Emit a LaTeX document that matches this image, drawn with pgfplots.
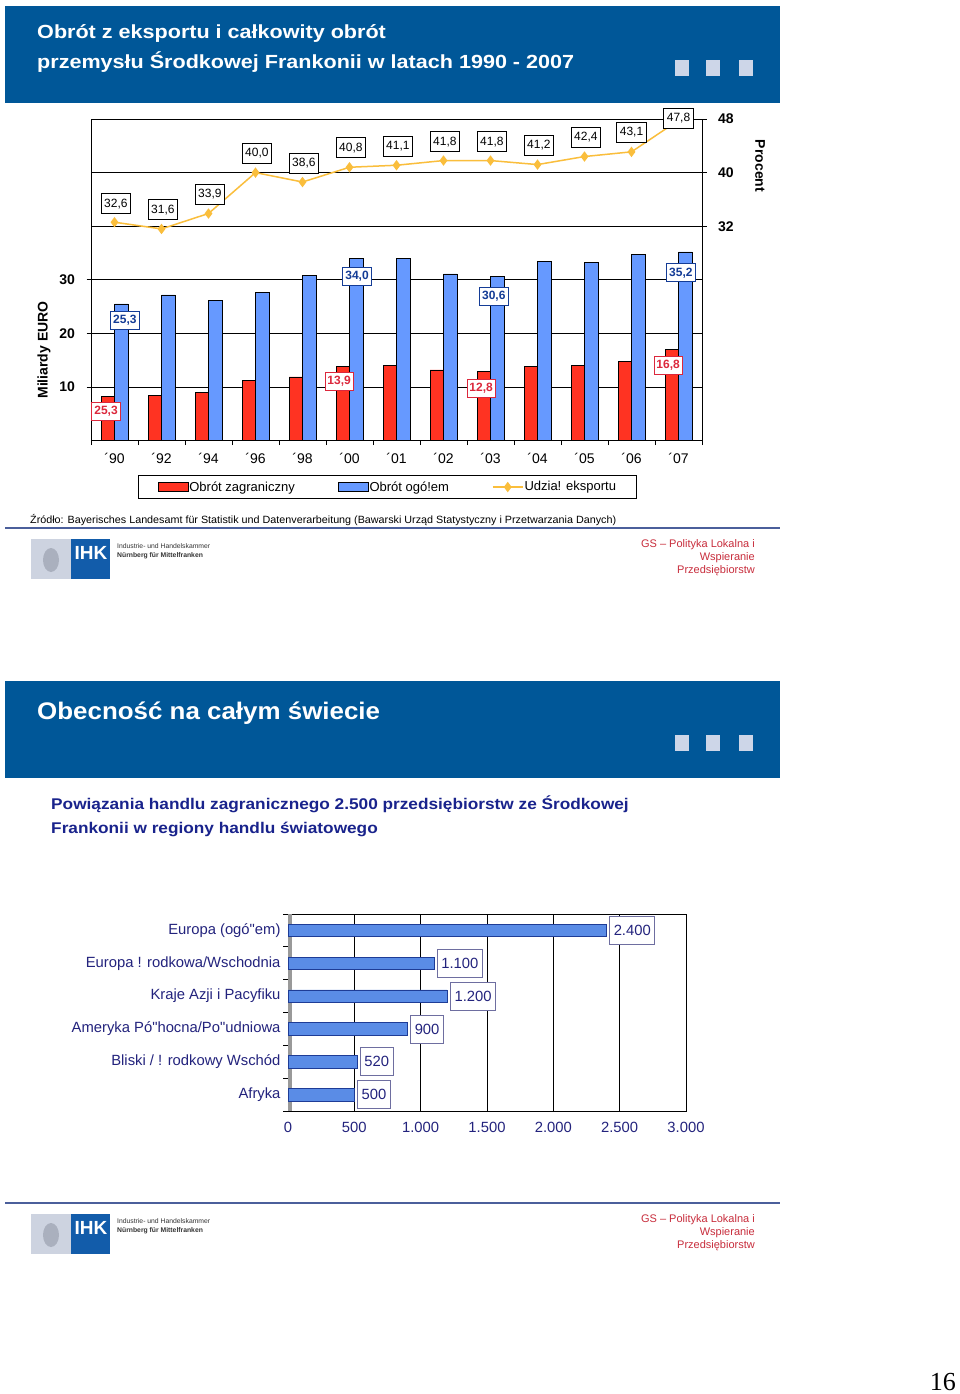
\documentclass[border=0pt]{standalone}
\usepackage{fontspec}
\setmainfont{Liberation Sans}
\newfontfamily\seriffont{Liberation Serif}
\usepackage{pgfplots}
\pgfplotsset{compat=1.18}
\usepackage{pgfplotstable}

\definecolor{banner}{RGB}{0,87,152}
\definecolor{sqcol}{RGB}{205,214,232}
\definecolor{barred}{RGB}{255,51,34}
\definecolor{barblue}{RGB}{102,153,255}
\definecolor{linegold}{RGB}{250,190,60}
\definecolor{lblred}{RGB}{220,40,60}
\definecolor{lblblue}{RGB}{20,60,150}
\definecolor{navy}{RGB}{35,35,125}
\definecolor{subblue}{RGB}{25,35,140}
\definecolor{gsred}{RGB}{200,45,60}
\definecolor{hbar}{RGB}{90,140,230}
\definecolor{hbardark}{RGB}{30,60,150}
\definecolor{boxgray}{RGB}{110,110,160}
\definecolor{sepline}{RGB}{75,95,155}
\definecolor{logogray}{RGB}{205,211,224}
\definecolor{logoblue}{RGB}{18,92,170}
\definecolor{emblem}{RGB}{170,176,190}

\newcommand\fs[1]{\fontsize{#1}{#1}\selectfont}

\pgfplotsset{
  barleg/.style={legend image code/.code={\draw[##1, line width=0.7pt] (0pt,-4.5pt) rectangle (30pt,4.5pt);}},
  lineleg/.style={legend image code/.code={\draw[##1, mark repeat=2, mark phase=2] plot coordinates {(0pt,0pt) (15pt,0pt) (30pt,0pt)};}},
}

\pgfplotstableread{
x red blue pct
0 8.2 25.5 32.6
1 8.5 27.2 31.6
2 9.0 26.2 33.9
3 11.2 27.7 40.0
4 11.9 30.8 38.6
5 13.8 34.0 40.8
6 14.1 34.0 41.1
7 13.2 31.1 41.8
8 12.9 30.6 41.8
9 13.8 33.5 41.2
10 14.1 33.3 42.4
11 14.8 34.7 43.1
12 17.0 35.2 47.8
}\topdata

\pgfplotstableread{
x y l
-0.18 5.5 {25,3}
4.78 11.0 {13,9}
7.80 9.7 {12,8}
11.78 14.0 {16,8}
}\redlab

\pgfplotstableread{
x y l
0.22 22.5 {25,3}
5.16 30.7 {34,0}
8.07 27.0 {30,6}
12.05 31.3 {35,2}
}\bluelab

\pgfplotstableread{
x y l
0.03 35.35 {32,6}
1.03 34.45 {31,6}
2.03 36.8 {33,9}
3.03 42.9 {40,0}
4.03 41.45 {38,6}
5.03 43.7 {40,8}
6.03 43.9 {41,1}
7.03 44.6 {41,8}
8.03 44.6 {41,8}
9.03 44.1 {41,2}
10.03 45.3 {42,4}
11.0 46.05 {43,1}
12.0 48.1 {47,8}
}\pctlab

\begin{document}
\begin{tikzpicture}
\fill[white] (0pt,0pt) rectangle (960pt,-1394pt);
\useasboundingbox (0pt,0pt) rectangle (960pt,-1394pt);

\begin{scope}[x=1pt,y=-1pt]
\foreach \dy in {0,675} {
  \begin{scope}[yshift=-\dy pt]
    \fill[banner] (5,6) rectangle (780,103);
    \foreach \sx in {675,706,739} \fill[sqcol] (\sx,60) rectangle ++(14,16);
    \draw[sepline, line width=1.8pt] (5,528) -- (780,528);
    \fill[logogray] (31,539) rectangle (71,579);
    \fill[logoblue] (71,539) rectangle (110,579);
    \fill[emblem] (51,560) ellipse (8 and 12);
    \node[anchor=base, text=white, font=\fs{19}\bfseries, inner sep=0] at (91,559) {IHK};
    \node[anchor=north west, text=black!80, font=\fs{6.8}, align=left, inner sep=0] at (117,543.5) {Industrie- und Handelskammer\\[2.5pt]\textbf{Nürnberg für Mittelfranken}};
    \node[anchor=base east, text=gsred, font=\fs{11}, inner sep=0] at (755,547) {GS – Polityka Lokalna i};
    \node[anchor=base east, text=gsred, font=\fs{11}, inner sep=0] at (755,560) {Wspieranie};
    \node[anchor=base east, text=gsred, font=\fs{11}, inner sep=0] at (755,573) {Przedsiębiorstw};
  \end{scope}
}
\node[anchor=base west, text=white, font=\fs{19}\bfseries, inner sep=0, xscale=1.135] at (37,39) {Obrót z eksportu i całkowity obrót};
\node[anchor=base west, text=white, font=\fs{19}\bfseries, inner sep=0, xscale=1.135] at (37,69) {przemysłu Środkowej Frankonii w latach 1990 - 2007};
\node[anchor=base west, text=white, font=\fs{24}\bfseries, inner sep=0, xscale=1.08] at (37,719) {Obecność na całym świecie};
\node[anchor=base west, text=subblue, font=\fs{15.5}\bfseries, inner sep=0, xscale=1.112] at (51,809) {Powiązania handlu zagranicznego 2.500 przedsiębiorstw ze Środkowej};
\node[anchor=base west, text=subblue, font=\fs{15.5}\bfseries, inner sep=0, xscale=1.112] at (51,833) {Frankonii w regiony handlu światowego};
\node[anchor=base west, text=black, font=\fs{10.5}, inner sep=0, xscale=1.025] at (30,523) {Źródło: Bayerisches Landesamt für Statistik und Datenverarbeitung (Bawarski Urząd Statystyczny i Przetwarzania Danych)};
\node[rotate=90, font=\fs{14}\bfseries, inner sep=0] at (44,350) {Miliardy EURO};
\node[rotate=-90, font=\fs{14}\bfseries, inner sep=0] at (760,166) {Procent};
\node[anchor=base east, font=\seriffont\fs{26}, inner sep=0] at (956,1390) {16};
\end{scope}

% ===== top chart: bars (primary axis)
\begin{axis}[
  at={(91pt,-440.7pt)}, anchor=south west, scale only axis,
  width=611pt, height=321.7pt,
  xmin=-0.5, xmax=12.5, ymin=0, ymax=60,
  axis line style={black, line width=0.9pt},
  ytick={10,20,30}, yticklabels={10,20,30},
  ymajorgrids, major grid style={black, line width=0.8pt},
  ytick pos=left, xtick pos=bottom, tick align=outside,
  major tick length=4.5pt, tick style={black, line width=0.8pt},
  xtick={-0.5,0.5,...,12.5}, xticklabels={},
  extra x ticks={0,1,2,3,4,5,6,7,8,9,10,11,12},
  extra x tick labels={´90,´92,´94,´96,´98,´00,´01,´02,´03,´04,´05,´06,´07},
  extra x tick style={major tick length=0pt, tick label style={font=\fs{14}, yshift=-9pt}},
  yticklabel style={font=\fs{14}\bfseries, xshift=-8pt},
  clip=false,
]
\addplot[ybar, bar width=13.5pt, bar shift=-6.75pt, fill=barred, draw=black, line width=0.7pt] table[x=x,y=red]{\topdata};
\addplot[ybar, bar width=13.5pt, bar shift=6.75pt, fill=barblue, draw=black, line width=0.7pt] table[x=x,y=blue]{\topdata};
\addplot[draw=none, mark=none, forget plot, nodes near coords, point meta=explicit symbolic,
  every node near coord/.style={anchor=center, draw=lblred, fill=white, text=lblred, font=\fs{12}\bfseries, inner xsep=2.5pt, inner ysep=1pt, minimum height=18pt, line width=0.8pt}]
  table[x=x,y=y,meta=l]{\redlab};
\addplot[draw=none, mark=none, forget plot, nodes near coords, point meta=explicit symbolic,
  every node near coord/.style={anchor=center, draw=lblblue, fill=white, text=lblblue, font=\fs{12}\bfseries, inner xsep=2.5pt, inner ysep=1pt, minimum height=18pt, line width=0.8pt}]
  table[x=x,y=y,meta=l]{\bluelab};
\end{axis}

% ===== top chart: export share (secondary axis)
\begin{axis}[
  at={(91pt,-440.7pt)}, anchor=south west, scale only axis,
  width=611pt, height=321.7pt,
  xmin=-0.5, xmax=12.5, ymin=0, ymax=48,
  axis x line=none, axis y line*=right,
  axis line style={black, line width=0.9pt},
  ytick={32,40,48}, yticklabels={32,40,48},
  ymajorgrids, major grid style={black, line width=0.8pt},
  tick align=outside, major tick length=4.5pt, tick style={black, line width=0.8pt},
  yticklabel style={font=\fs{14}\bfseries, xshift=8pt},
  clip=false,
  legend style={at={(0.485,-0.144)}, anchor=center, legend columns=3, draw=black, line width=0.9pt,
    font=\fs{13}, inner xsep=19pt, inner ysep=4pt, nodes={inner xsep=1pt},
    /tikz/column 2/.style={column sep=42pt}, /tikz/column 4/.style={column sep=42pt}},
]
\addlegendimage{barleg, fill=barred, draw=black}
\addlegendentry{Obrót zagraniczny}
\addlegendimage{barleg, fill=barblue, draw=black}
\addlegendentry{Obrót ogó!em}
\addplot[lineleg, color=linegold, line width=1.5pt, mark=diamond*, mark size=4pt, mark options={fill=linegold, draw=linegold}]
  table[x=x,y=pct]{\topdata};
\addlegendentry{Udzia! eksportu}
\addplot[draw=none, mark=none, forget plot, nodes near coords, point meta=explicit symbolic,
  every node near coord/.style={anchor=center, draw=black, fill=white, text=black, font=\fs{12}, inner xsep=3pt, inner ysep=1pt, minimum height=20pt, line width=0.7pt}]
  table[x=x,y=y,meta=l]{\pctlab};
\end{axis}

% ===== bottom chart: horizontal bars
\begin{axis}[
  at={(288pt,-1111pt)}, anchor=south west, scale only axis,
  width=398pt, height=197pt,
  xmin=0, xmax=3000, ymin=-0.5, ymax=5.5, y dir=reverse,
  axis line style={black, line width=0.9pt},
  xtick={0,500,1000,1500,2000,2500,3000},
  xticklabels={0,500,1.000,1.500,2.000,2.500,3.000},
  xmajorgrids, major grid style={black, line width=0.7pt},
  xtick style={draw=none}, xtick pos=bottom, ytick pos=left, tick align=outside,
  major tick length=5pt, tick style={black, line width=0.8pt},
  ytick={-0.5,0.5,...,5.5}, yticklabels={},
  extra y ticks={0,1,2,3,4,5},
  extra y tick labels={Europa (ogó\textquotedbl em),Europa ! rodkowa/Wschodnia,Kraje Azji i Pacyfiku,Ameryka Pó\textquotedbl hocna/Po\textquotedbl udniowa,Bliski / ! rodkowy Wschód,Afryka},
  extra y tick style={major tick length=0pt, tick label style={xshift=-4pt}},
  tick label style={font=\fs{14.8}, text=navy},
  xticklabel style={yshift=-3pt},
  /pgf/number format/1000 sep={.},
  /pgf/number format/assume math mode=true,
  clip=false,
]
\fill[black!40] (rel axis cs:0,0) rectangle ([xshift=3.5pt]rel axis cs:0,1);
\addplot[xbar, bar width=12.5pt, fill=hbar, draw=hbardark, line width=0.7pt,
  nodes near coords, point meta=x,
  every node near coord/.style={anchor=west, draw=boxgray, fill=white, text=navy, font=\fs{14.8}, inner xsep=4pt, minimum height=28pt, line width=0.7pt, xshift=3pt}]
  coordinates {(2400,0) (1100,1) (1200,2) (900,3) (520,4) (500,5)};
\end{axis}
\end{tikzpicture}
\end{document}
